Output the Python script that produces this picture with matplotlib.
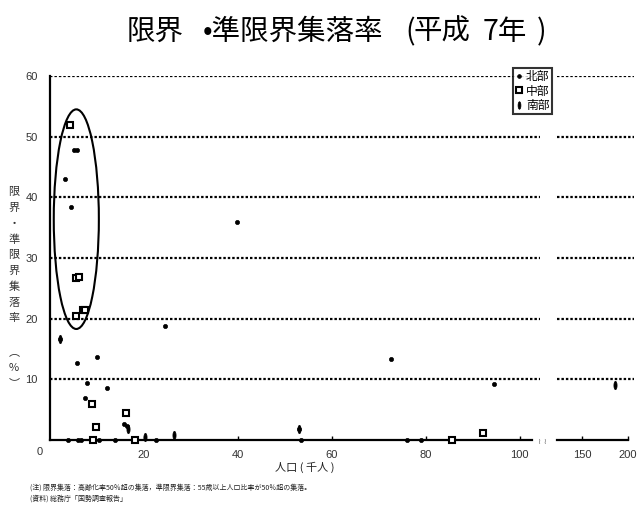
import numpy as np
import matplotlib
matplotlib.use('Agg')
import matplotlib.pyplot as plt
from matplotlib.patches import Ellipse
from matplotlib.path import Path
from matplotlib.transforms import Affine2D

plt.rcParams['font.family'] = ['Noto Sans CJK JP', 'DejaVu Sans']

# --- datos (poblacion en miles, % de aldeas) ---
norte_x = [3.2, 5.1, 5.7, 4.5, 5.7, 10.0, 24.5, 7.9, 12.1, 7.4, 39.8, 72.6, 94.5,
           2.1, 16.4, 15.8, 53.0, 3.8, 6.0, 6.6, 10.4, 13.8, 22.6, 53.4, 76.0, 79.0]
norte_y = [43.0, 47.8, 47.8, 38.4, 12.7, 13.7, 18.8, 9.4, 8.6, 7.0, 36.0, 13.3, 9.2,
           16.6, 2.3, 2.6, 1.8, 0, 0, 0, 0, 0, 0, 0, 0, 0]
centro_x = [4.3, 5.5, 6.2, 5.5, 7.0, 7.4, 8.9, 16.2, 9.8, 92.1, 9.1, 18.1, 85.5]
centro_y = [51.9, 26.7, 26.9, 20.4, 21.4, 21.4, 6.0, 4.5, 2.2, 1.2, 0, 0, 0]
sur_x = [2.1, 16.6, 26.4, 20.2, 53.0, 185.9]
sur_y = [16.6, 1.8, 0.8, 0.5, 1.8, 9.0]

regiones = ['北部', '中部', '南部']
yticks = [10, 20, 30, 40, 50, 60]
xticks_izq = [20, 40, 60, 80, 100]
xticks_der = [150, 200]

# marcador del sur: elipse vertical
marca_sur = Path(Affine2D().scale(0.38, 1.0).transform(Path.unit_circle().vertices),
                 Path.unit_circle().codes)

estilos = {
    '北部': dict(marker='o', ms=3.0, mfc='black', mec='black', mew=0.5),
    '中部': dict(marker='s', ms=4.8, mfc='white', mec='black', mew=1.5),
    '南部': dict(marker=marca_sur, ms=6, mfc='black', mec='black', mew=0.5),
}
series = {'北部': (norte_x, norte_y), '中部': (centro_x, centro_y), '南部': (sur_x, sur_y)}

W, H = 637, 516
fig = plt.figure(figsize=(W / 100, H / 100), dpi=100)

bot = (H - 440) / H
alto = 364 / H
ax1 = fig.add_axes([50 / W, bot, 490 / W, alto])
ax2 = fig.add_axes([557 / W, bot, 77 / W, alto])
ax1.set_xlim(0, 104.3)
ax2.set_xlim(122.8, 206.5)

for ax in (ax1, ax2):
    ax.set_ylim(0, 60)
    ax.set_facecolor('none')
    for s in ['top', 'right']:
        ax.spines[s].set_visible(False)
    ax.spines['bottom'].set_linewidth(1.6)
    ax.tick_params(axis='x', direction='in', length=3, width=1, labelsize=8,
                   labelcolor='#333333', pad=7)
    for y in yticks:
        ax.axhline(y, color='black', lw=1.6, ls=(0, (1.1, 0.9)), zorder=1)

ax1.spines['left'].set_linewidth(1.6)
ax1.spines['bottom'].set_bounds(0, 102.5)
ax2.spines['left'].set_visible(False)
ax2.spines['bottom'].set_bounds(122.8, 200)

ax1.set_yticks(yticks)
ax1.set_yticklabels([str(v) for v in yticks])
ax1.tick_params(axis='y', length=0, labelsize=8, labelcolor='#333333', pad=9)
ax2.set_yticks([])
ax1.set_xticks(xticks_izq)
ax2.set_xticks(xticks_der)
for ax in (ax1, ax2):
    for lb in ax.get_xticklabels() + ax.get_yticklabels():
        lb.set_family('Liberation Sans')

for reg in regiones:
    xs, ys = np.array(series[reg][0]), np.array(series[reg][1])
    m = xs < 110
    ax1.plot(xs[m], ys[m], ls='none', clip_on=False, zorder=5, **estilos[reg])
    ax2.plot(xs[~m], ys[~m], ls='none', clip_on=False, zorder=5, **estilos[reg])

# elipse que resalta el grupo de alta tasa
ax1.add_patch(Ellipse((5.6, 36.4), 9.6, 36.2, fill=False, lw=1.5, ec='black', zorder=4))

# marcas de corte del eje
fig.text(538 / W, 1 - 441 / H, '≀ ≀', fontsize=6, color='#777777', ha='left', va='center',
         family='DejaVu Sans')

fig.text(40 / W, 1 - 452 / H, '0', fontsize=8, color='#333333', ha='center', va='center',
         family='Liberation Sans')

# titulo, en trozos para respetar los espacios del original
trozos = [('限界', 127), ('•準限界集落率', 203), ('(', 405), ('平成', 414),
          ('7年', 483), (')', 537)]
for txt, xp in trozos:
    fig.text(xp / W, 1 - 40 / H, txt, fontsize=20.5, ha='left', va='baseline')

# etiqueta eje y vertical
chars = ['限', '界', '・', '準', '限', '界', '集', '落', '率', '', '︵', '%', '︶']
for i, c in enumerate(chars):
    yy = 192 + i * 15.8
    if i >= 10:
        yy += 2
    fig.text(14 / W, 1 - yy / H, c, fontsize=8, color='#333333', ha='center', va='center')

fig.text(305 / W, 1 - 467 / H, '人口 ( 千人 )', fontsize=8, color='#222222',
         ha='center', va='center')

# leyenda
manejadores = [plt.Line2D([], [], ls='none', **estilos[r]) for r in regiones]
leg = fig.legend(manejadores, regiones, loc='upper left',
                 bbox_to_anchor=(513 / W, 1 - 68 / H), fontsize=8.5, frameon=True,
                 fancybox=False, borderpad=0.2, labelspacing=0.1, handlelength=0.6,
                 handletextpad=0.3, borderaxespad=0, markerscale=0.9)
leg.get_frame().set_edgecolor('black')
leg.get_frame().set_linewidth(1.5)
leg.set_zorder(10)

# notas
fig.text(30 / W, 1 - 488 / H,
         '(注) 限界集落：高齢化率50％超の集落，準限界集落：55歳以上人口比率が50％超の集落。',
         fontsize=5, color='#222222', ha='left', va='center')
fig.text(30 / W, 1 - 499 / H, '(資料) 総務庁「国勢調査報告」', fontsize=5,
         color='#222222', ha='left', va='center')

fig.savefig('out.png', dpi=100)
